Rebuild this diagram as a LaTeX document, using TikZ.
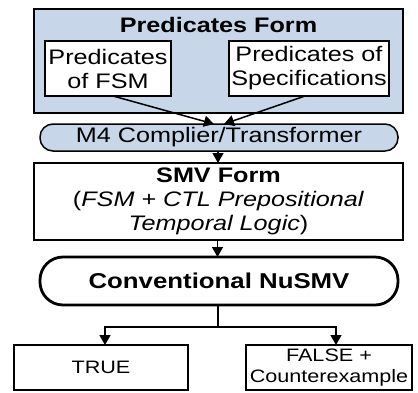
\documentclass[tikz,border=0pt]{standalone}
\usepackage{fontspec}
\setmainfont[FakeStretch=1.2]{Liberation Sans}
\usetikzlibrary{arrows.meta,calc}
\definecolor{paleblue}{RGB}{199,214,232}
\tikzset{
  box/.style={draw=black, line width=1.5pt, rectangle, inner sep=0pt, outer sep=0pt, align=center},
  arr/.style={line width=1.5pt, -{Triangle[length=10pt,width=11pt]}},
  ln/.style={line width=1.5pt},
  big/.style={font=\fontsize{21}{24}\selectfont},
  small/.style={font=\fontsize{18}{20.5}\selectfont},
}
\begin{document}
\begin{tikzpicture}[x=1pt,y=-1pt]
\useasboundingbox (0,0) rectangle (418,392);
% outer predicates form
\node[box, fill=paleblue, minimum width=369pt, minimum height=104pt, anchor=north west] (pf) at (34,9) {};
\node[font=\fontsize{21}{24}\selectfont\bfseries] (pft) at (218.5,25) {Predicates Form};
\node[box, big, fill=white, minimum width=126pt, minimum height=55pt] (pl) at (108,68.5) {Predicates\\of FSM};
\node[box, big, fill=white, minimum width=160pt, minimum height=55pt] (pr) at (309,68.5) {Predicates of\\Specifications};
% M4
\node[box, big, fill=paleblue, rounded corners=13pt, minimum width=358pt, minimum height=27pt] (m4) at (219,137.5) {M4 Complier/Transformer};
% SMV
\node[box, big, fill=white, minimum width=369pt, minimum height=77pt] (smv) at (218.5,201.5) {\textbf{SMV Form}\\(\textit{FSM + CTL Prepositional}\\\textit{Temporal Logic})};
% Conventional
\node[box, line width=2.8pt, fill=white, rounded corners=23pt, minimum width=358pt, minimum height=48pt, font=\fontsize{21.5}{24}\selectfont\bfseries] (cv) at (219,281) {Conventional NuSMV};
% results
\node[box, small, fill=white, minimum width=174pt, minimum height=45pt] (tr) at (101,367.5) {TRUE};
\node[box, small, fill=white, minimum width=166pt, minimum height=45pt] (fa) at (329,367.5) {FALSE +\\Counterexample};
% connectors
\coordinate (m4l) at (214,124);
\coordinate (m4r) at (224,124);
\draw[arr] ([xshift=5pt]pl.south) -- (m4l);
\draw[arr] ([xshift=-4pt]pr.south) -- (m4r);
\draw[arr] ([xshift=-1pt]m4.south) -- ([xshift=-1pt]m4.south |- smv.north);
\draw[arr] ([xshift=-1pt]smv.south) -- ([xshift=-1pt]smv.south |- cv.north);
\coordinate (j) at (218,327);
\draw[ln] ([xshift=-1pt]cv.south) -- (j);
\draw[arr] (j) -| ([xshift=4pt]tr.north);
\draw[arr] (j) -| ([xshift=7pt]fa.north);
\end{tikzpicture}
\end{document}
